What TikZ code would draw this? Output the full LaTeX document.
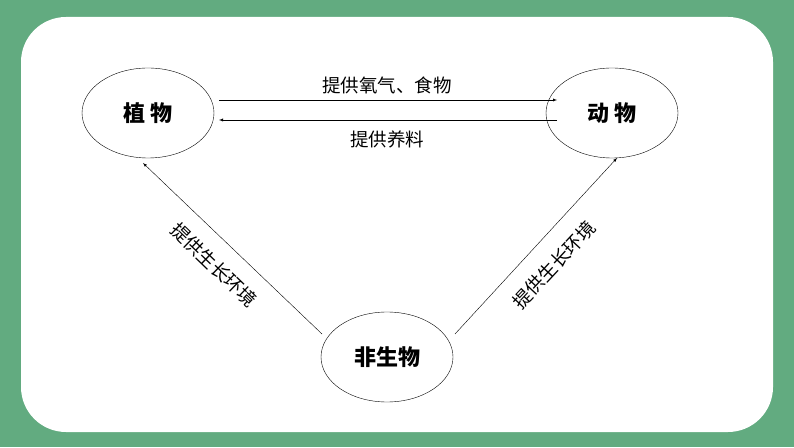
\documentclass[tikz,border=0pt]{standalone}
\usepackage{fontspec}
\newfontfamily\cjk{Noto Sans CJK SC}
\usetikzlibrary{shapes.geometric}
\definecolor{bg}{HTML}{62AB80}
\tikzset{x=1pt,y=1pt,
 ell/.style={draw,ellipse,minimum width=132pt,minimum height=90pt,font=\cjk\bfseries\fontsize{22}{24}\selectfont,thin},
 arr/.style={-latex,thin},
 lbl/.style={font=\cjk\fontsize{18.5}{20}\selectfont,inner sep=0pt}}
\begin{document}
\begin{tikzpicture}
\fill[bg] (0,0) rectangle (794,447);
\fill[white,rounded corners=45pt] (21,15) rectangle (773,430);
\node[ell] (p) at (148,334) {植 物};
\node[ell] (a) at (612,334) {动 物};
\node[ell] (n) at (387,90) {非生物};
\coordinate (t1) at (219,347); \coordinate (t2) at (557,347);
\coordinate (b1) at (557,327); \coordinate (b2) at (219,327);
\draw[arr] (t1) -- (t2);
\draw[arr] (b1) -- (b2);
\node[lbl] (lt) at (387,362) {提供氧气、食物};
\node[lbl] (lb) at (387,308) {提供养料};
\coordinate (l1) at (322,113); \coordinate (l2) at (143,284);
\coordinate (r1) at (455,113); \coordinate (r2) at (617,289);
\draw[arr] (l1) -- (l2);
\draw[arr] (r1) -- (r2);
\node[lbl,rotate=-44] (ll) at (214,182) {提供生长环境};
\node[lbl,rotate=47] (rl) at (554,182) {提供生长环境};
\end{tikzpicture}
\end{document}
